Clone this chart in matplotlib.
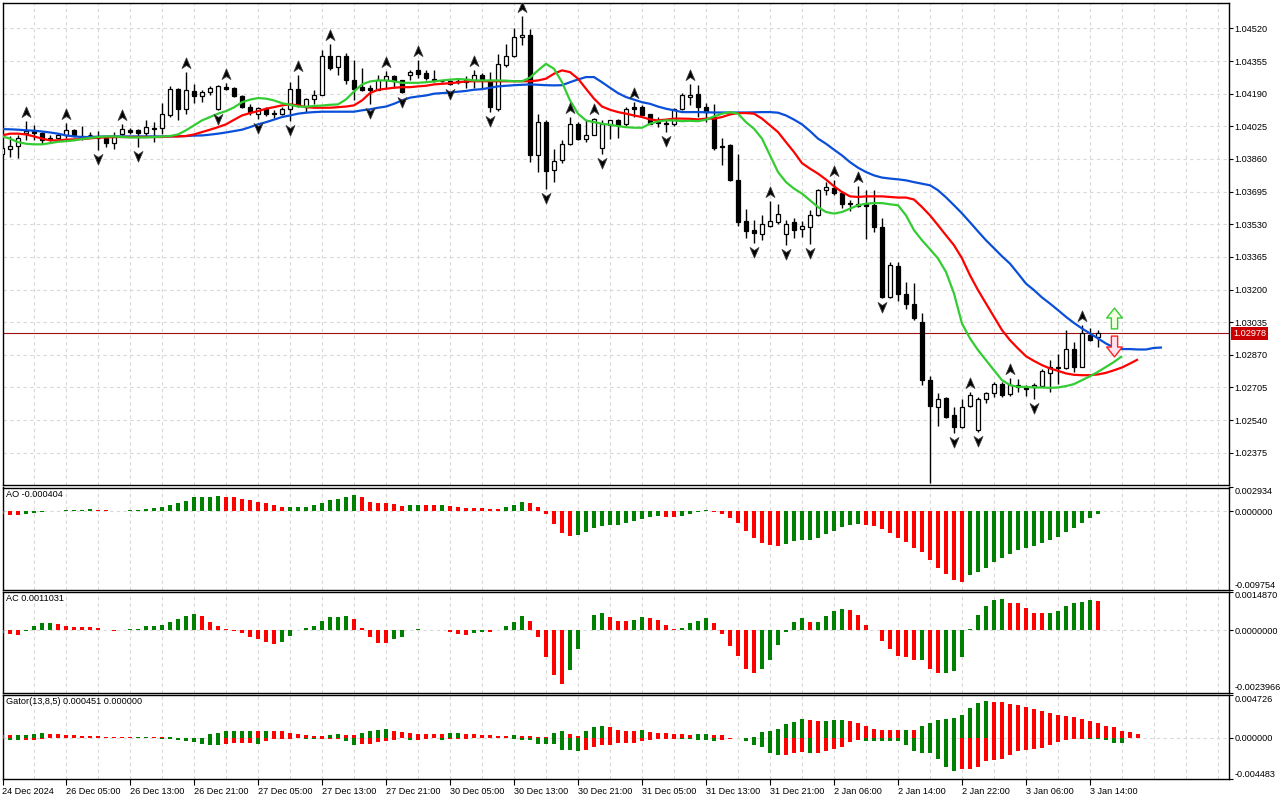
import numpy as np
import matplotlib
matplotlib.use("Agg")
import matplotlib.pyplot as plt
from matplotlib.path import Path
from matplotlib import transforms as mtransforms

plt.rcParams['font.family'] = ['Liberation Sans', 'DejaVu Sans']
FS = 6.6
plt.rcParams['font.size'] = FS

# ---------------- data ----------------
opens = [1.03883, 1.03910, 1.03925, 1.03989, 1.03999, 1.03989, 1.03968, 1.03968, 1.03983, 1.04008,
         1.03976, 1.03983, 1.03968, 1.03966, 1.03942, 1.03988, 1.04005, 1.04008, 1.03993, 1.04016,
         1.04018, 1.04084, 1.04215, 1.04114, 1.04203, 1.04176, 1.04201, 1.04114, 1.04223, 1.04217,
         1.04178, 1.04125, 1.04089, 1.04114, 1.04090, 1.04089, 1.04114, 1.04215, 1.04122, 1.04163,
         1.04185, 1.04383, 1.04324, 1.04383, 1.04261, 1.04223, 1.04218, 1.04210, 1.04261, 1.04277,
         1.04257, 1.04282, 1.04308, 1.04294, 1.04266, 1.04255, 1.04252, 1.04256, 1.04257, 1.04257,
         1.04287, 1.04257, 1.04114, 1.04333, 1.04383, 1.04479, 1.04489, 1.03878, 1.04046, 1.03803,
         1.03857, 1.03937, 1.04038, 1.03963, 1.03983, 1.03917, 1.04030, 1.04055, 1.04035, 1.04122,
         1.04125, 1.04085, 1.04046, 1.04041, 1.04035, 1.04114, 1.04173, 1.04186, 1.04125, 1.04072,
         1.03926, 1.03929, 1.03752, 1.03545, 1.03503, 1.03483, 1.03521, 1.03541, 1.03483, 1.03541,
         1.03508, 1.03516, 1.03575, 1.03705, 1.03715, 1.03688, 1.03637, 1.03634, 1.03631, 1.03626,
         1.03516, 1.03163, 1.03318, 1.03180, 1.03129, 1.03036, 1.02742, 1.02607, 1.02650, 1.02565,
         1.02506, 1.02611, 1.02490, 1.02645, 1.02675, 1.02725, 1.02671, 1.02720, 1.02705, 1.02705,
         1.02712, 1.02779, 1.02801, 1.02801, 1.02897, 1.02809, 1.02969, 1.02958]
highs = [1.03920, 1.03974, 1.03979, 1.04050, 1.04030, 1.03996, 1.03979, 1.03989, 1.04041, 1.04013,
         1.04025, 1.03996, 1.04001, 1.03979, 1.03996, 1.04035, 1.04018, 1.04011, 1.04055, 1.04046,
         1.04144, 1.04227, 1.04220, 1.04299, 1.04240, 1.04210, 1.04227, 1.04232, 1.04243, 1.04223,
         1.04185, 1.04136, 1.04125, 1.04125, 1.04109, 1.04122, 1.04248, 1.04282, 1.04170, 1.04210,
         1.04409, 1.04439, 1.04383, 1.04397, 1.04358, 1.04319, 1.04232, 1.04287, 1.04304, 1.04282,
         1.04261, 1.04308, 1.04358, 1.04308, 1.04308, 1.04261, 1.04261, 1.04264, 1.04277, 1.04311,
         1.04294, 1.04299, 1.04392, 1.04442, 1.04523, 1.04585, 1.04518, 1.04085, 1.04055, 1.03912,
         1.03958, 1.04072, 1.04045, 1.04055, 1.04069, 1.04055, 1.04059, 1.04064, 1.04125, 1.04147,
         1.04131, 1.04089, 1.04072, 1.04064, 1.04119, 1.04193, 1.04240, 1.04232, 1.04142, 1.04139,
         1.03968, 1.03937, 1.03887, 1.03609, 1.03550, 1.03575, 1.03647, 1.03631, 1.03554, 1.03564,
         1.03546, 1.03604, 1.03710, 1.03743, 1.03756, 1.03698, 1.03651, 1.03722, 1.03705, 1.03705,
         1.03564, 1.03339, 1.03339, 1.03238, 1.03233, 1.03082, 1.02762, 1.02678, 1.02658, 1.02607,
         1.02645, 1.02683, 1.02658, 1.02683, 1.02733, 1.02733, 1.02751, 1.02746, 1.02717, 1.02728,
         1.02796, 1.02843, 1.02873, 1.02998, 1.02935, 1.03020, 1.03008, 1.02998]
lows = [1.03878, 1.03870, 1.03865, 1.03958, 1.03958, 1.03937, 1.03950, 1.03961, 1.03968, 1.03971,
        1.03958, 1.03968, 1.03904, 1.03920, 1.03910, 1.03979, 1.03988, 1.03920, 1.03974, 1.03945,
        1.03984, 1.04072, 1.04059, 1.04089, 1.04142, 1.04147, 1.04185, 1.04106, 1.04207, 1.04171,
        1.04119, 1.04080, 1.04064, 1.04075, 1.04069, 1.04080, 1.04052, 1.04122, 1.04097, 1.04139,
        1.04181, 1.04311, 1.04282, 1.04240, 1.04156, 1.04203, 1.04139, 1.04207, 1.04220, 1.04220,
        1.04193, 1.04257, 1.04271, 1.04261, 1.04248, 1.04248, 1.04232, 1.04240, 1.04220, 1.04220,
        1.04220, 1.04097, 1.04102, 1.04324, 1.04375, 1.04434, 1.03844, 1.03794, 1.03710, 1.03743,
        1.03839, 1.03929, 1.03958, 1.03945, 1.03979, 1.03887, 1.03963, 1.03968, 1.04025, 1.04072,
        1.04080, 1.04035, 1.04021, 1.03994, 1.04025, 1.04106, 1.04131, 1.04070, 1.04046, 1.03907,
        1.03828, 1.03749, 1.03520, 1.03463, 1.03435, 1.03449, 1.03516, 1.03533, 1.03424, 1.03463,
        1.03466, 1.03432, 1.03570, 1.03676, 1.03676, 1.03614, 1.03597, 1.03617, 1.03458, 1.03491,
        1.03155, 1.03155, 1.03142, 1.03104, 1.03045, 1.02717, 1.02220, 1.02510, 1.02549, 1.02473,
        1.02498, 1.02607, 1.02481, 1.02627, 1.02655, 1.02658, 1.02661, 1.02683, 1.02661, 1.02645,
        1.02705, 1.02683, 1.02722, 1.02796, 1.02784, 1.02806, 1.02940, 1.02910]
closes = [1.03914, 1.03925, 1.03968, 1.04001, 1.03989, 1.03958, 1.03961, 1.03983, 1.04008, 1.03979,
          1.03973, 1.03979, 1.03964, 1.03942, 1.03971, 1.04013, 1.03998, 1.03991, 1.04021, 1.04010,
          1.04089, 1.04215, 1.04114, 1.04210, 1.04176, 1.04200, 1.04220, 1.04227, 1.04215, 1.04176,
          1.04122, 1.04100, 1.04119, 1.04085, 1.04088, 1.04114, 1.04215, 1.04131, 1.04163, 1.04185,
          1.04383, 1.04319, 1.04380, 1.04257, 1.04215, 1.04210, 1.04210, 1.04261, 1.04277, 1.04253,
          1.04201, 1.04299, 1.04291, 1.04271, 1.04257, 1.04252, 1.04240, 1.04248, 1.04248, 1.04287,
          1.04257, 1.04122, 1.04338, 1.04383, 1.04479, 1.04489, 1.03878, 1.04046, 1.03799, 1.03850,
          1.03937, 1.04038, 1.03963, 1.03983, 1.04060, 1.04038, 1.04055, 1.04030, 1.04114, 1.04114,
          1.04084, 1.04038, 1.04041, 1.04035, 1.04114, 1.04181, 1.04181, 1.04123, 1.04097, 1.03917,
          1.03921, 1.03752, 1.03541, 1.03496, 1.03486, 1.03530, 1.03545, 1.03580, 1.03533, 1.03503,
          1.03520, 1.03575, 1.03705, 1.03718, 1.03688, 1.03634, 1.03631, 1.03624, 1.03624, 1.03516,
          1.03163, 1.03323, 1.03180, 1.03129, 1.03054, 1.02742, 1.02611, 1.02645, 1.02557, 1.02506,
          1.02607, 1.02666, 1.02645, 1.02675, 1.02725, 1.02666, 1.02717, 1.02708, 1.02695, 1.02717,
          1.02789, 1.02809, 1.02809, 1.02897, 1.02806, 1.02981, 1.02947, 1.02978]

# Alligator (jaw shifted 8, teeth 5, lips 3 bars forward)
jaw = [1.04011, 1.04010, 1.04008, 1.04005, 1.04003, 1.03999, 1.03994, 1.03988, 1.03979, 1.03974,
       1.03971, 1.03971, 1.03973, 1.03974, 1.03974, 1.03974, 1.03974, 1.03974, 1.03974, 1.03974,
       1.03974, 1.03974, 1.03975, 1.03976, 1.03978, 1.03979, 1.03983, 1.03988, 1.03994, 1.04001,
       1.04008, 1.04021, 1.04035, 1.04046, 1.04059, 1.04072, 1.04080, 1.04089, 1.04094, 1.04097,
       1.04099, 1.04099, 1.04099, 1.04099, 1.04099, 1.04106, 1.04111, 1.04119, 1.04125, 1.04139,
       1.04156, 1.04170, 1.04176, 1.04181, 1.04190, 1.04193, 1.04196, 1.04200, 1.04204, 1.04210,
       1.04213, 1.04220, 1.04227, 1.04230, 1.04233, 1.04235, 1.04237, 1.04235, 1.04233, 1.04232,
       1.04233, 1.04248, 1.04262, 1.04274, 1.04274, 1.04248, 1.04220, 1.04193, 1.04173, 1.04160,
       1.04147, 1.04139, 1.04125, 1.04114, 1.04106, 1.04097, 1.04097, 1.04097, 1.04096, 1.04095,
       1.04095, 1.04095, 1.04095, 1.04095, 1.04096, 1.04097, 1.04097, 1.04094, 1.04080, 1.04059,
       1.04035, 1.04001, 1.03963, 1.03937, 1.03907, 1.03878, 1.03844, 1.03816, 1.03794, 1.03777,
       1.03766, 1.03761, 1.03757, 1.03752, 1.03743, 1.03735, 1.03727, 1.03702, 1.03666, 1.03626,
       1.03585, 1.03540, 1.03494, 1.03449, 1.03409, 1.03368, 1.03331, 1.03281, 1.03230, 1.03197,
       1.03160, 1.03129, 1.03096, 1.03062, 1.03031, 1.03003, 1.02978, 1.02953, 1.02927, 1.02907,
       1.02899, 1.02899, 1.02897, 1.02897, 1.02905, 1.02907]
teeth = [1.03979, 1.03988, 1.03988, 1.03984, 1.03974, 1.03963, 1.03954, 1.03954, 1.03958, 1.03959,
         1.03961, 1.03964, 1.03968, 1.03969, 1.03971, 1.03971, 1.03971, 1.03971, 1.03971, 1.03971,
         1.03971, 1.03974, 1.03974, 1.03976, 1.03984, 1.03996, 1.04008, 1.04021, 1.04035, 1.04058,
         1.04080, 1.04092, 1.04102, 1.04114, 1.04122, 1.04131, 1.04136, 1.04131, 1.04122, 1.04119,
         1.04119, 1.04119, 1.04122, 1.04125, 1.04131, 1.04156, 1.04193, 1.04210, 1.04215, 1.04220,
         1.04223, 1.04223, 1.04227, 1.04230, 1.04237, 1.04240, 1.04243, 1.04247, 1.04252, 1.04253,
         1.04253, 1.04253, 1.04253, 1.04253, 1.04253, 1.04253, 1.04253, 1.04257, 1.04266, 1.04291,
         1.04308, 1.04299, 1.04266, 1.04215, 1.04165, 1.04125, 1.04109, 1.04097, 1.04089, 1.04080,
         1.04072, 1.04060, 1.04055, 1.04059, 1.04064, 1.04064, 1.04063, 1.04060, 1.04064, 1.04064,
         1.04072, 1.04085, 1.04092, 1.04092, 1.04089, 1.04064, 1.04030, 1.03996, 1.03945, 1.03895,
         1.03839, 1.03811, 1.03786, 1.03756, 1.03722, 1.03693, 1.03671, 1.03668, 1.03671, 1.03671,
         1.03671, 1.03668, 1.03665, 1.03665, 1.03655, 1.03617, 1.03575, 1.03525, 1.03474, 1.03424,
         1.03358, 1.03272, 1.03197, 1.03129, 1.03062, 1.02995, 1.02944, 1.02902, 1.02863, 1.02839,
         1.02818, 1.02801, 1.02789, 1.02776, 1.02769, 1.02767, 1.02767, 1.02771, 1.02779, 1.02792,
         1.02806, 1.02826, 1.02847]
lips = [1.03974, 1.03963, 1.03945, 1.03937, 1.03934, 1.03934, 1.03940, 1.03947, 1.03950, 1.03954,
        1.03961, 1.03966, 1.03971, 1.03974, 1.03974, 1.03971, 1.03969, 1.03969, 1.03969, 1.03971,
        1.03973, 1.03976, 1.03984, 1.04005, 1.04030, 1.04055, 1.04072, 1.04089, 1.04102, 1.04121,
        1.04147, 1.04160, 1.04168, 1.04165, 1.04156, 1.04142, 1.04134, 1.04125, 1.04124, 1.04128,
        1.04130, 1.04134, 1.04136, 1.04161, 1.04201, 1.04237, 1.04252, 1.04257, 1.04257, 1.04252,
        1.04245, 1.04245, 1.04245, 1.04248, 1.04252, 1.04257, 1.04261, 1.04264, 1.04262, 1.04257,
        1.04257, 1.04257, 1.04257, 1.04256, 1.04253, 1.04253, 1.04271, 1.04308, 1.04341, 1.04316,
        1.04248, 1.04156, 1.04089, 1.04055, 1.04046, 1.04038, 1.04033, 1.04026, 1.04021, 1.04018,
        1.04018, 1.04038, 1.04050, 1.04055, 1.04055, 1.04051, 1.04053, 1.04051, 1.04059, 1.04075,
        1.04089, 1.04097, 1.04089, 1.04046, 1.04013, 1.03963, 1.03878, 1.03794, 1.03743, 1.03710,
        1.03685, 1.03651, 1.03617, 1.03592, 1.03584, 1.03592, 1.03609, 1.03626, 1.03634, 1.03637,
        1.03637, 1.03631, 1.03626, 1.03575, 1.03500, 1.03449, 1.03404, 1.03357, 1.03289, 1.03180,
        1.03028, 1.02953, 1.02894, 1.02843, 1.02792, 1.02742, 1.02717, 1.02708, 1.02708, 1.02705,
        1.02705, 1.02703, 1.02705, 1.02712, 1.02722, 1.02742, 1.02762, 1.02784, 1.02809, 1.02834,
        1.02863]

fractal_up = [3, 8, 15, 23, 28, 37, 41, 48, 52, 59, 65, 71, 74, 79, 86, 96, 104, 107, 121, 126, 135]
fractal_dn = [12, 17, 27, 32, 36, 46, 50, 56, 61, 68, 75, 83, 94, 98, 101, 110, 116, 119, 122, 129]

signal_up = (139, 1.03055)
signal_dn = (139, 1.02914)
current_price = 1.02978

ao = [-0.00034, -0.00050, -0.00054, -0.00038, -0.00025, -0.00008, -0.00002, 0.00001, 0.00008, 0.00013,
      0.00017, 0.00029, 0.00017, 0.00008, 0.00004, 0.00006, 0.00010, 0.00013, 0.00020, 0.00033,
      0.00046, 0.00075, 0.00105, 0.00126, 0.00172, 0.00178, 0.00181, 0.00183, 0.00180, 0.00176,
      0.00147, 0.00138, 0.00117, 0.00096, 0.00071, 0.00046, 0.00048, 0.00052, 0.00056, 0.00071,
      0.00105, 0.00134, 0.00155, 0.00180, 0.00197, 0.00180, 0.00113, 0.00105, 0.00096, 0.00084,
      0.00063, 0.00075, 0.00076, 0.00074, 0.00073, 0.00075, 0.00063, 0.00050, 0.00038, 0.00037,
      0.00034, 0.00030, 0.00025, 0.00050, 0.00075, 0.00113, 0.00100, 0.00050, -0.00042, -0.00159,
      -0.00273, -0.00310, -0.00297, -0.00260, -0.00210, -0.00189, -0.00176, -0.00172, -0.00142, -0.00122,
      -0.00096, -0.00071, -0.00063, -0.00075, -0.00076, -0.00063, -0.00034, -0.00008, 0.00008, -0.00008,
      -0.00034, -0.00084, -0.00147, -0.00247, -0.00335, -0.00398, -0.00427, -0.00436, -0.00410, -0.00373,
      -0.00360, -0.00358, -0.00335, -0.00285, -0.00247, -0.00197, -0.00172, -0.00159, -0.00176, -0.00189,
      -0.00222, -0.00272, -0.00335, -0.00385, -0.00461, -0.00511, -0.00612, -0.00712, -0.00788, -0.00863,
      -0.00876, -0.00796, -0.00763, -0.00712, -0.00637, -0.00587, -0.00540, -0.00486, -0.00461, -0.00436,
      -0.00398, -0.00360, -0.00323, -0.00260, -0.00210, -0.00147, -0.00084, -0.000404]
ac = [-0.00010, -0.00013, -0.00018, -0.00002, 0.00017, 0.00027, 0.00028, 0.00023, 0.00016, 0.00013,
      0.00012, 0.00011, 0.00008, 0.00000, -0.00005, -0.00001, 0.00003, 0.00005, 0.00016, 0.00017,
      0.00021, 0.00032, 0.00043, 0.00056, 0.00062, 0.00054, 0.00032, 0.00017, 0.00003, -0.00003,
      -0.00009, -0.00026, -0.00035, -0.00045, -0.00053, -0.00045, -0.00022, 0.00000, 0.00008, 0.00017,
      0.00036, 0.00049, 0.00052, 0.00056, 0.00043, 0.00010, -0.00028, -0.00048, -0.00049, -0.00035,
      -0.00026, 0.00002, 0.00003, 0.00000, -0.00001, 0.00002, -0.00006, -0.00013, -0.00019, -0.00010,
      -0.00006, -0.00007, -0.00001, 0.00016, 0.00032, 0.00054, 0.00036, -0.00026, -0.00104, -0.00171,
      -0.00206, -0.00154, -0.00072, 0.00001, 0.00058, 0.00066, 0.00050, 0.00035, 0.00034, 0.00039,
      0.00050, 0.00047, 0.00039, 0.00019, 0.00004, 0.00008, 0.00027, 0.00035, 0.00047, 0.00027,
      -0.00013, -0.00062, -0.00101, -0.00148, -0.00163, -0.00148, -0.00113, -0.00058, -0.00006, 0.00031,
      0.00047, 0.00031, 0.00032, 0.00054, 0.00074, 0.00082, 0.00078, 0.00058, 0.00019, -0.00001,
      -0.00041, -0.00072, -0.00100, -0.00104, -0.00115, -0.00114, -0.00150, -0.00166, -0.00165, -0.00158,
      -0.00104, 0.00003, 0.00058, 0.00093, 0.00117, 0.00118, 0.00105, 0.00104, 0.00085, 0.00066,
      0.00065, 0.00066, 0.00074, 0.00093, 0.00105, 0.00109, 0.00117, 0.0011031]
gator_up = [0.00029, 0.00026, 0.00029, 0.00033, 0.00040, 0.00048, 0.00044, 0.00037, 0.00033, 0.00026,
            0.00022, 0.00018, 0.00015, 0.00011, 0.00008, 0.00006, 0.00004, 0.00008, 0.00010, 0.00007,
            0.00004, 0.00006, 0.00002, 0.00001, 0.00000, 0.00001, 0.00037, 0.00048, 0.00073, 0.00074,
            0.00075, 0.00076, 0.00073, 0.00074, 0.00073, 0.00072, 0.00048, 0.00037, 0.00026, 0.00025,
            0.00024, 0.00029, 0.00037, 0.00030, 0.00028, 0.00048, 0.00073, 0.00091, 0.00092, 0.00080,
            0.00066, 0.00048, 0.00047, 0.00046, 0.00045, 0.00044, 0.00048, 0.00049, 0.00047, 0.00037,
            0.00036, 0.00026, 0.00025, 0.00024, 0.00026, 0.00024, 0.00015, 0.00014, 0.00012, 0.00058,
            0.00080, 0.00047, 0.00015, 0.00080, 0.00113, 0.00124, 0.00113, 0.00091, 0.00080, 0.00079,
            0.00081, 0.00069, 0.00058, 0.00048, 0.00047, 0.00037, 0.00026, 0.00037, 0.00038, 0.00036,
            0.00026, 0.00003, 0.00002, 0.00003, 0.00004, 0.00069, 0.00070, 0.00102, 0.00146, 0.00175,
            0.00201, 0.00190, 0.00179, 0.00180, 0.00190, 0.00192, 0.00179, 0.00157, 0.00124, 0.00102,
            0.00091, 0.00090, 0.00089, 0.00091, 0.00090, 0.00124, 0.00157, 0.00190, 0.00201, 0.00212,
            0.00245, 0.00322, 0.00376, 0.00398, 0.00387, 0.00386, 0.00365, 0.00354, 0.00333, 0.00311,
            0.00289, 0.00267, 0.00245, 0.00234, 0.00223, 0.00201, 0.00179, 0.00157, 0.00124, 0.00113,
            0.00080, 0.00069, 0.000451]
gator_dn = [-0.00010, -0.00018, -0.00026, -0.00026, -0.00022, -0.00012, -0.00005, -0.00004, -0.00003, -0.00003,
            -0.00002, -0.00002, -0.00002, -0.00001, -0.00001, -0.00002, -0.00002, -0.00003, -0.00004, -0.00006,
            -0.00008, -0.00012, -0.00020, -0.00030, -0.00047, -0.00062, -0.00073, -0.00074, -0.00062, -0.00055,
            -0.00055, -0.00055, -0.00062, -0.00037, -0.00011, -0.00010, -0.00008, -0.00006, -0.00010, -0.00012,
            -0.00011, -0.00011, -0.00011, -0.00037, -0.00073, -0.00072, -0.00071, -0.00048, -0.00037, -0.00018,
            -0.00006, -0.00024, -0.00020, -0.00008, -0.00006, -0.00022, -0.00012, -0.00010, -0.00008, -0.00006,
            -0.00005, -0.00004, -0.00003, -0.00002, -0.00012, -0.00024, -0.00028, -0.00066, -0.00069, -0.00070,
            -0.00128, -0.00129, -0.00146, -0.00135, -0.00100, -0.00080, -0.00073, -0.00058, -0.00058, -0.00057,
            -0.00037, -0.00026, -0.00015, -0.00007, -0.00007, -0.00015, -0.00016, -0.00026, -0.00027, -0.00029,
            -0.00026, -0.00007, -0.00004, -0.00037, -0.00073, -0.00100, -0.00161, -0.00192, -0.00190, -0.00168,
            -0.00150, -0.00161, -0.00160, -0.00139, -0.00121, -0.00095, -0.00048, -0.00026, -0.00029, -0.00030,
            -0.00031, -0.00037, -0.00038, -0.00080, -0.00139, -0.00161, -0.00162, -0.00227, -0.00322, -0.00365,
            -0.00336, -0.00335, -0.00314, -0.00256, -0.00245, -0.00227, -0.00183, -0.00146, -0.00135, -0.00117,
            -0.00106, -0.00073, -0.00048, -0.00026, -0.00015, -0.00007, -0.00008, -0.00015, -0.00018, -0.00051,
            -0.00052]

time_labels = ["24 Dec 2024", "26 Dec 05:00", "26 Dec 13:00", "26 Dec 21:00", "27 Dec 05:00",
               "27 Dec 13:00", "27 Dec 21:00", "30 Dec 05:00", "30 Dec 13:00", "30 Dec 21:00",
               "31 Dec 05:00", "31 Dec 13:00", "31 Dec 21:00", "2 Jan 06:00", "2 Jan 14:00",
               "2 Jan 22:00", "3 Jan 06:00", "3 Jan 14:00"]
label_every = 8
price_ticks = [1.02375, 1.02540, 1.02705, 1.02870, 1.03035, 1.03200, 1.03365, 1.03530,
               1.03695, 1.03860, 1.04025, 1.04190, 1.04355, 1.04520]
price_range = (1.02212, 1.04651)
ao_range = (-0.009754, 0.002934)
ac_range = (-0.0023966, 0.0014870)
gator_range = (-0.004483, 0.004726)

# ---------------- style ----------------
GREEN = '#008000'
RED = '#ff0000'
GRID = '#d8d8d8'
GRID_LS = (0, (3, 3))

W, H = 1280, 800
fig = plt.figure(figsize=(W / 100, H / 100), dpi=100)
fig.patch.set_facecolor('white')
LPX, RPX = 2.5, 1228.5


def rect(top, bot):
    return [LPX / W, 1 - bot / H, (RPX - LPX) / W, (bot - top) / H]


ax_p = fig.add_axes(rect(2.5, 485))
ax_ao = fig.add_axes(rect(487.5, 589.5))
ax_ac = fig.add_axes(rect(591.5, 692.5))
ax_g = fig.add_axes(rect(694.5, 779))
axes = [ax_p, ax_ao, ax_ac, ax_g]

xlo, xhi = (LPX - 2) / 8, (RPX - 2) / 8
for a in axes:
    a.set_xlim(xlo, xhi)
    for s in a.spines.values():
        s.set_color('black')
        s.set_linewidth(1.0)
    a.yaxis.tick_right()
    a.tick_params(axis='y', direction='out', length=3, width=0.8, pad=1.5, labelsize=FS, colors='black')
    a.tick_params(axis='x', bottom=False, labelbottom=False)
    for gx in range(0, int(xhi) + 1, 4):
        a.axvline(gx, color=GRID, lw=0.8, ls=GRID_LS, zorder=0)

# ---------------- price panel ----------------
n = len(opens)
xs = np.arange(n)
ax_p.set_ylim(*price_range)
for p in price_ticks:
    ax_p.axhline(p, color=GRID, lw=0.8, ls=GRID_LS, zorder=0)
ax_p.set_yticks(price_ticks, [f"{p:.5f}" for p in price_ticks])

o = np.array(opens); c = np.array(closes); h = np.array(highs); l = np.array(lows)
ax_p.vlines(xs, l, h, color='black', lw=1.0, zorder=3)
bull = c >= o
body_lo = np.minimum(o, c)
body_h = np.maximum(np.abs(c - o), 0.000012)
ax_p.bar(xs[bull], body_h[bull], bottom=body_lo[bull], width=0.6, color='white',
         edgecolor='black', linewidth=0.9, zorder=4)
ax_p.bar(xs[~bull], body_h[~bull], bottom=body_lo[~bull], width=0.6, color='black',
         edgecolor='black', linewidth=0.9, zorder=4)

ax_p.plot(np.arange(len(jaw)), jaw, color='#0a4fd8', lw=1.6, zorder=5, solid_capstyle='butt')
ax_p.plot(np.arange(len(teeth)), teeth, color='#ff0000', lw=1.6, zorder=5, solid_capstyle='butt')
ax_p.plot(np.arange(len(lips)), lips, color='#33cc33', lw=1.6, zorder=5, solid_capstyle='butt')

# fractal arrows
up_path = Path([(0, 1.0), (0.8, -0.9), (0, -0.35), (-0.8, -0.9), (0, 1.0)],
               [Path.MOVETO, Path.LINETO, Path.LINETO, Path.LINETO, Path.CLOSEPOLY])
dn_path = Path([(x, -y) for x, y in up_path.vertices], up_path.codes)
tr_up = mtransforms.offset_copy(ax_p.transData, fig=fig, x=0, y=9, units='dots')
tr_dn = mtransforms.offset_copy(ax_p.transData, fig=fig, x=0, y=-9, units='dots')
ax_p.plot(fractal_up, [highs[i] for i in fractal_up], ls='none', marker=up_path, ms=8,
          mfc='black', mec='#3a3a3a', mew=0.6, transform=tr_up, zorder=6)
ax_p.plot(fractal_dn, [lows[i] for i in fractal_dn], ls='none', marker=dn_path, ms=8,
          mfc='black', mec='#3a3a3a', mew=0.6, transform=tr_dn, zorder=6)

# signal arrows
blk_up = Path([(-0.3, -1), (0.3, -1), (0.3, 0.05), (0.75, 0.05), (0, 1), (-0.75, 0.05), (-0.3, 0.05), (-0.3, -1)],
              [Path.MOVETO] + [Path.LINETO] * 6 + [Path.CLOSEPOLY])
blk_dn = Path([(x, -y) for x, y in blk_up.vertices], blk_up.codes)
ax_p.plot([signal_up[0]], [signal_up[1]], marker=blk_up, ms=15, mfc='#f2ffe0', mec='#33cc33', mew=1.0,
          ls='none', zorder=7)
ax_p.plot([signal_dn[0]], [signal_dn[1]], marker=blk_dn, ms=15, mfc='#ffe4f0', mec='#ff2020', mew=1.0,
          ls='none', zorder=7)

# current price
ax_p.axhline(current_price, color='#a01010', lw=0.8, zorder=2)
blend = mtransforms.blended_transform_factory(ax_p.transAxes, ax_p.transData)
ax_p.annotate(f"{current_price:.5f}", xy=(1.0, current_price), xycoords=blend,
              xytext=(4.5, 0), textcoords='offset pixels', ha='left', va='center',
              color='white', fontsize=FS, annotation_clip=False, zorder=10,
              bbox=dict(boxstyle='square,pad=0.25', fc='#cc0000', ec='none'))

# ---------------- indicators ----------------
def seq_colors(vals, first, use_abs=False):
    cols = [first]
    for a, b in zip(vals[:-1], vals[1:]):
        if use_abs:
            cols.append(GREEN if abs(b) > abs(a) else RED)
        else:
            cols.append(GREEN if b > a else RED)
    return cols


def setup_ind(a, rng, fmt, name):
    lo, hi = rng
    a.set_ylim(lo, hi)
    a.axhline(0, color=GRID, lw=0.8, ls=GRID_LS, zorder=0)
    a.set_yticks([lo, 0, hi], [fmt.format(lo), fmt.format(0.0), fmt.format(hi)])
    tl = a.get_yticklabels()
    tl[0].set_va('bottom')
    tl[-1].set_va('top')
    a.text(0.003, 0.975, name, transform=a.transAxes, ha='left', va='top', fontsize=FS)


ax_ao.bar(np.arange(len(ao)), ao, width=0.5, color=seq_colors(ao, RED), linewidth=0, zorder=3)
setup_ind(ax_ao, ao_range, "{:.6f}", f"AO {ao[-1]:.6f}")

ax_ac.bar(np.arange(len(ac)), ac, width=0.5, color=seq_colors(ac, RED), linewidth=0, zorder=3)
setup_ind(ax_ac, ac_range, "{:.7f}", f"AC {ac[-1]:.7f}")

ax_g.bar(np.arange(len(gator_up)), gator_up, width=0.5, color=seq_colors(gator_up, RED),
         linewidth=0, zorder=3)
ax_g.bar(np.arange(len(gator_dn)), gator_dn, width=0.5, color=seq_colors(gator_dn, GREEN, True),
         linewidth=0, zorder=3)
setup_ind(ax_g, gator_range, "{:.6f}", f"Gator(13,8,5) {gator_up[-1]:.6f} 0.000000")

# time axis
tick_pos = [k * label_every for k in range(len(time_labels))]
ax_g.tick_params(axis='x', bottom=True, labelbottom=True, direction='out', length=4, width=0.8,
                 pad=1.5, labelsize=FS)
ax_g.set_xticks(tick_pos, time_labels)
for lab in ax_g.get_xticklabels():
    lab.set_ha('left')

fig.savefig("out.png", dpi=100, facecolor='white')
